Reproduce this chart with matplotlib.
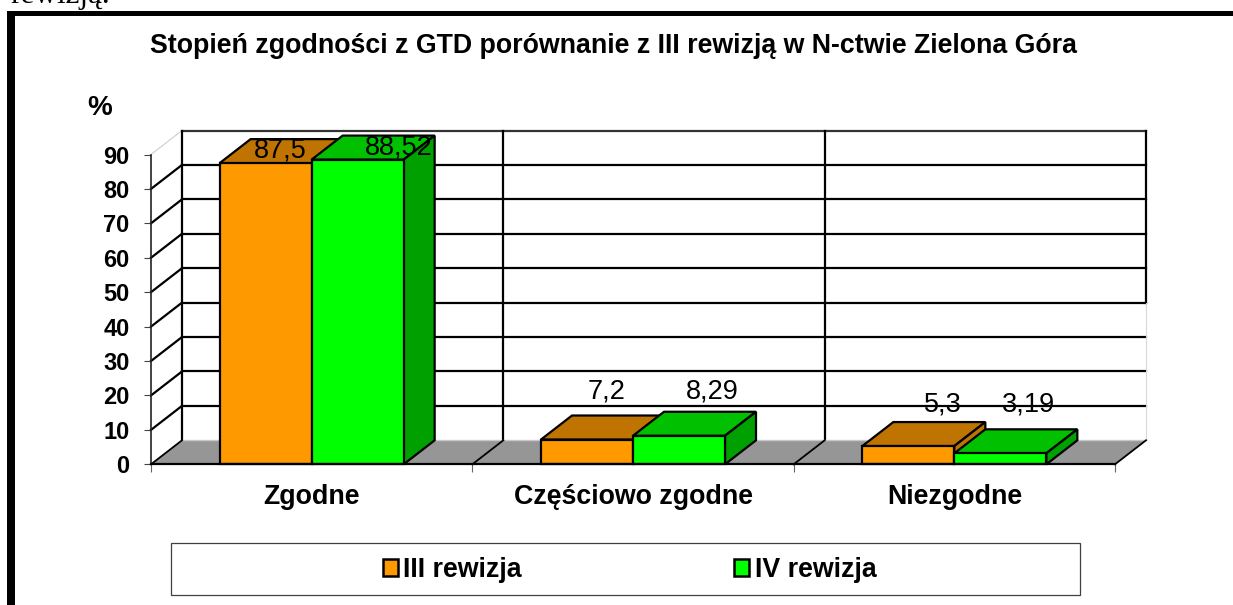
import matplotlib
matplotlib.use("Agg")
import matplotlib.pyplot as plt
from matplotlib.patches import Polygon, Rectangle

plt.rcParams['font.family'] = ['Liberation Sans', 'DejaVu Sans']

title = "Stopień zgodności z GTD porównanie z III rewizją w N-ctwie Zielona Góra"
categories = ["Zgodne", "Częściowo zgodne", "Niezgodne"]
series_names = ["III rewizja", "IV rewizja"]
values_iii = [87.5, 7.2, 5.3]
values_iv = [88.52, 8.29, 3.19]
labels_iii = ["87,5", "7,2", "5,3"]
labels_iv = ["88,52", "8,29", "3,19"]
y_ticks = [0, 10, 20, 30, 40, 50, 60, 70, 80, 90]

W, H = 1233, 605
fig = plt.figure(figsize=(W / 100, H / 100), dpi=100, facecolor="white")

def fx(px): return px / W
def fy(py): return 1 - py / H

# plot frame, in pixels of the figure
X0, X1, Y0, Y90 = 151, 1115, 464.3, 154.5
ax = fig.add_axes([fx(X0), fy(Y0), fx(X1) - fx(X0), fy(Y90) - fy(Y0)])
ax.set_xlim(0, 3)
ax.set_ylim(0, 90)
ax.patch.set_alpha(0)

px_x = (X1 - X0) / 3
px_y = (Y0 - Y90) / 90
DX = 31 / px_x      # depth of the 3D look, in data units
DY = 24 / px_y
BAR_W = 92 / px_x
BK = "black"
LW = 1.6

# outer page elements
fig.add_artist(Rectangle((fx(7), 0), fx(8), fy(11), transform=fig.transFigure, color=BK, lw=0))
fig.add_artist(Rectangle((fx(7), fy(16)), 1 - fx(7), fy(11) - fy(16), transform=fig.transFigure, color=BK, lw=0))
fig.text(fx(10), fy(3), "rewizją.", family=['Liberation Serif'], fontsize=22.5, va="baseline", ha="left", color=BK)

# back wall and grid
for v in y_ticks[1:]:
    ax.plot([DX, 3 + DX], [v + DY, v + DY], color=BK if v < 90 else "#333333", lw=LW, clip_on=False, zorder=1)
    ax.plot([0, DX], [v, v + DY], color=BK if v < 90 else "#c8c8c8", lw=LW if v < 90 else 0.7, clip_on=False, zorder=1)
for c in [0, 1, 2]:
    ax.plot([c + DX, c + DX], [DY, 90 + DY], color=BK, lw=LW, clip_on=False, zorder=1)
ax.plot([3 + DX, 3 + DX], [47, 90 + DY], color=BK, lw=LW, clip_on=False, zorder=1)
ax.plot([3 + DX, 3 + DX], [DY, 47], color="#d8d8d8", lw=0.8, clip_on=False, zorder=1)

# floor
ax.add_patch(Polygon([(0, 0), (3, 0), (3 + DX, DY), (DX, DY)], closed=True, fc="#969696", ec="none", clip_on=False, zorder=2))
ax.plot([DX, 3 + DX], [DY, DY], color="#c8c8c8", lw=1.0, clip_on=False, zorder=2)
for c in [0, 1, 2, 3]:
    ax.plot([c, c + DX], [0, DY], color=BK, lw=1.3, clip_on=False, zorder=2)

# bars with their top and side faces
series = [(values_iii, "#FF9900", "#BF7300", "#BF7300", -BAR_W / 2, labels_iii),
          (values_iv, "#00FF00", "#00C000", "#00A000", BAR_W / 2, labels_iv)]
z = 3
for vals, front, top, side, off, _ in series:
    for i, v in enumerate(vals):
        l = i + 0.5 + off - BAR_W / 2
        r = l + BAR_W
        ax.add_patch(Polygon([(l, v), (r, v), (r + DX, v + DY), (l + DX, v + DY)], closed=True, fc=top, ec=BK, lw=LW, clip_on=False, zorder=z))
        ax.add_patch(Polygon([(r, 0), (r + DX, DY), (r + DX, v + DY), (r, v)], closed=True, fc=side, ec=BK, lw=LW, clip_on=False, zorder=z))
        ax.bar(i + 0.5 + off, v, width=BAR_W, color=front, edgecolor=BK, linewidth=LW, clip_on=False, zorder=z + 0.5)
    z += 1

# data labels, offset by hand as in the reference (pixels from the bar top)
off_iii = [(15, 13), (20, 48), (35, 42)]
off_iv = [(41, 12), (33, 44), (28, 49)]
for (vals, _, _, _, off, labs), offs in zip(series, [off_iii, off_iv]):
    for i, (v, t, (ox, oy)) in enumerate(zip(vals, labs, offs)):
        ax.annotate(t, (i + 0.5 + off, v), xytext=(ox * 0.72, oy * 0.72), textcoords="offset points",
                    ha="center", va="center", fontsize=19.5, color=BK, zorder=10, annotation_clip=False)

# axes
for s in ["top", "right"]:
    ax.spines[s].set_visible(False)
ax.spines["left"].set_color("#222222")
ax.spines["left"].set_linewidth(1.2)
ax.spines["bottom"].set_color(BK)
ax.spines["bottom"].set_linewidth(1.6)
for s in ax.spines.values():
    s.set_zorder(9)
ax.set_yticks(y_ticks)
ax.set_yticklabels([str(v) for v in y_ticks], fontsize=17, fontweight="bold")
ax.tick_params(axis="y", length=5, width=0.8, color="#444444", pad=10.5)
ax.set_xticks([0, 1, 2, 3])
ax.set_xticklabels([])
ax.tick_params(axis="x", which="major", length=6, width=0.8, color="#666666")
ax.set_xticks([0.5, 1.5, 2.5], minor=True)
ax.set_xticklabels(categories, minor=True, fontsize=19.3, fontweight="bold")
ax.tick_params(axis="x", which="minor", length=0, pad=14)

fig.text(fx(100), fy(108), "%", fontsize=20, fontweight="bold", ha="center", va="center")
fig.text(fx(613), fy(46), title, fontsize=19.25, fontweight="bold", ha="center", va="center")

# legend
fig.add_artist(Rectangle((fx(171), fy(595)), fx(1080) - fx(171), fy(543) - fy(595), transform=fig.transFigure,
                         fc="white", ec="#404040", lw=0.9))
handles = [Rectangle((0, 0), 1, 1, fc=c, ec=BK, lw=1.8) for c in ["#FF9900", "#00FF00"]]
fig.legend(handles, series_names, loc="center", bbox_to_anchor=(fx(629.5), fy(570)), ncol=2, frameon=False,
           prop={"size": 19.3, "weight": "bold"}, handlelength=0.56, handleheight=0.56,
           handletextpad=0.22, columnspacing=7.9, borderpad=0, borderaxespad=0)

fig.savefig("out.png", dpi=100)
